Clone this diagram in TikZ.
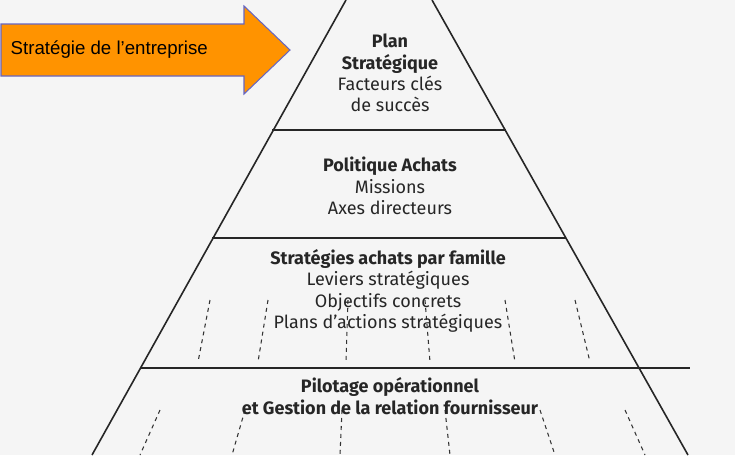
\documentclass[tikz,border=0pt]{standalone}
\usepackage{fontspec}
\setmainfont{Liberation Sans}
\newfontfamily\pyr{Fira Sans}
\begin{document}
\begin{tikzpicture}[x=0.75pt,y=-0.75pt,
  edge/.style={line width=1.2pt,draw=black!85},
  dsh/.style={dashed,line width=0.8pt,draw=black!80},
  tt/.style={font=\pyr\fontsize{13.5}{16}\selectfont,text=black!85,align=center}]
\useasboundingbox (0,0) rectangle (735,455);
\fill[black!4] (0,0) rectangle (735,455);
% pyramid edges
\coordinate (L0) at (346,0); \coordinate (R0) at (432,0);
\coordinate (L4) at (92,455); \coordinate (R4) at (688,455);
\draw[edge] (L0) -- (L4);
\draw[edge] (R0) -- (R4);
\draw[edge] (272,130) -- (506,130);
\draw[edge] (212,238) -- (566,238);
\draw[edge] (140,368) -- (690,368);
% dashed dividers
\foreach \a/\b in {210/198,268/258,348/346,425/430,505/515,575/590}
  \draw[dsh] (\a,300) -- (\b,362);
\foreach \a/\b in {160/140,245/232,342/340,445/450,540/555,625/645}
  \draw[dsh] (\a,410) -- (\b,455);
% texts
\node[tt] (t1) at (390,73) {\textbf{Plan}\\\textbf{Stratégique}\\Facteurs clés\\de succès};
\node[tt] (t2) at (390,186) {\textbf{Politique Achats}\\Missions\\Axes directeurs};
\node[tt] (t3) at (388,291) {\textbf{Stratégies achats par famille}\\Leviers stratégiques\\Objectifs concrets\\Plans d’actions stratégiques};
\node[tt] (t4) at (390,396) {\textbf{Pilotage opérationnel}\\\textbf{et Gestion de la relation fournisseur}};
% arrow
\draw[draw=black!40!blue!60,line width=0.8pt,fill=orange!85!yellow]
  (1,24) -- (244,24) -- (244,6) -- (290,50) -- (244,94) -- (244,76) -- (1,76) -- cycle;
\node[anchor=west,font=\fontsize{14}{16}\selectfont] (lab) at (6,50) {Stratégie de l’entreprise};
\end{tikzpicture}
\end{document}
